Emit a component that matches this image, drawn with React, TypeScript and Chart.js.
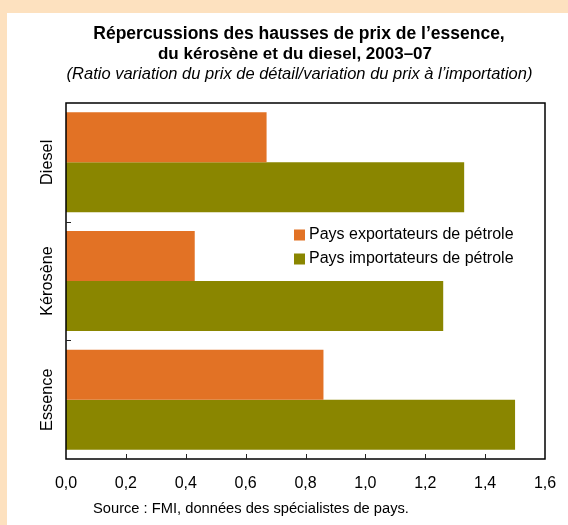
import React, { useEffect, useRef } from 'react';
import { Chart, registerables } from 'chart.js';

Chart.register(...registerables);

const categories = ['Diesel', 'Kérosène', 'Essence'];
const seriesLabels = ['Pays exportateurs de pétrole', 'Pays importateurs de pétrole'];
const exportateurs = [0.67, 0.43, 0.86];
const importateurs = [1.33, 1.26, 1.5];
const seriesColors = ['#E27225', '#8A8600'];
const titleLines = ['Répercussions des hausses de prix de l’essence,', 'du kérosène et du diesel, 2003–07'];
const subtitle = '(Ratio variation du prix de détail/variation du prix à l’importation)';
const sourceText = 'Source : FMI, données des spécialistes de pays.';
const xMin = 0;
const xMax = 1.6;
const xStep = 0.2;

const FONT = '"Liberation Sans", Arial, Helvetica, sans-serif';

const decorPlugin = {
  id: 'decor',
  afterDatasetsDraw(chart: any) {
    const { ctx, chartArea } = chart;
    const xs = chart.scales.x;
    const ys = chart.scales.y;
    ctx.save();
    ctx.strokeStyle = '#000';
    ctx.lineWidth = 1.5;
    ctx.strokeRect(chartArea.left, chartArea.top, chartArea.right - chartArea.left, chartArea.bottom - chartArea.top);
    ctx.lineWidth = 1;
    ctx.strokeStyle = '#222';
    xs.ticks.forEach((t: any, i: number) => {
      if (i === 0 || i === xs.ticks.length - 1) return;
      const px = Math.round(xs.getPixelForValue(t.value)) + 0.5;
      ctx.beginPath();
      ctx.moveTo(px, chartArea.bottom);
      ctx.lineTo(px, chartArea.bottom - 5);
      ctx.stroke();
    });
    for (let i = 0; i < categories.length - 1; i++) {
      const py = Math.round((ys.getPixelForValue(i) + ys.getPixelForValue(i + 1)) / 2) + 0.5;
      ctx.beginPath();
      ctx.moveTo(chartArea.left, py);
      ctx.lineTo(chartArea.left + 5, py);
      ctx.stroke();
    }
    ctx.fillStyle = '#000';
    ctx.font = `16.3px ${FONT}`;
    ctx.textAlign = 'center';
    ctx.textBaseline = 'alphabetic';
    categories.forEach((c, i) => {
      const py = ys.getPixelForValue(i);
      ctx.save();
      ctx.translate(44.7, py);
      ctx.rotate(-Math.PI / 2);
      ctx.fillText(c, 0, 0);
      ctx.restore();
    });
    ctx.font = `bold 17.5px ${FONT}`;
    ctx.fillText(titleLines[0], 292, 25.5);
    ctx.font = `bold 17px ${FONT}`;
    ctx.fillText(titleLines[1], 288, 46);
    ctx.font = `italic 16.5px ${FONT}`;
    ctx.fillText(subtitle, 292.5, 66);
    ctx.textAlign = 'left';
    ctx.font = `14.7px ${FONT}`;
    ctx.fillText(sourceText, 86, 500);
    const rows = [222, 246];
    chart.data.datasets.forEach((ds: any, i: number) => {
      const cy = rows[i];
      ctx.fillStyle = ds.backgroundColor;
      ctx.fillRect(287, cy - 5.5, 11, 11);
      ctx.fillStyle = '#000';
      ctx.font = `16px ${FONT}`;
      ctx.textBaseline = 'middle';
      ctx.fillText(ds.label, 302, cy);
    });
    ctx.restore();
  },
};

export default function App() {
  const ref = useRef<HTMLCanvasElement | null>(null);
  useEffect(() => {
    if (!ref.current) return;
    const chart = new Chart(ref.current, {
      type: 'bar',
      data: {
        labels: categories,
        datasets: [
          { label: seriesLabels[0], data: exportateurs, backgroundColor: seriesColors[0], borderWidth: 0 },
          { label: seriesLabels[1], data: importateurs, backgroundColor: seriesColors[1], borderWidth: 0 },
        ],
      },
      options: {
        indexAxis: 'y',
        responsive: false,
        animation: false,
        devicePixelRatio: 1,
        layout: { padding: { left: 59, right: 23, top: 90, bottom: 0 } },
        datasets: { bar: { categoryPercentage: 0.842, barPercentage: 1 } },
        plugins: { legend: { display: false }, title: { display: false }, tooltip: { enabled: false } },
        scales: {
          y: { display: false },
          x: {
            min: xMin,
            max: xMax,
            grid: { display: false, drawTicks: false },
            border: { display: false },
            ticks: {
              stepSize: xStep,
              padding: 15,
              color: '#000',
              font: { family: FONT, size: 16 },
              callback: (v: any) => Number(v).toFixed(1).replace('.', ','),
            },
            afterFit: (s: any) => {
              s.height = 66;
              s.paddingLeft = 0;
              s.paddingRight = 0;
            },
          },
        },
      },
      plugins: [decorPlugin],
    });
    return () => chart.destroy();
  }, []);
  return (
    <div style={{ position: 'fixed', left: 0, top: 0, width: 568, height: 525, background: '#FDE1BF' }}>
      <div style={{ position: 'absolute', left: 7, top: 13, width: 561, height: 512, background: '#fff' }}>
        <canvas ref={ref} width={561} height={512} style={{ display: 'block', width: 561, height: 512 }} />
      </div>
    </div>
  );
}
